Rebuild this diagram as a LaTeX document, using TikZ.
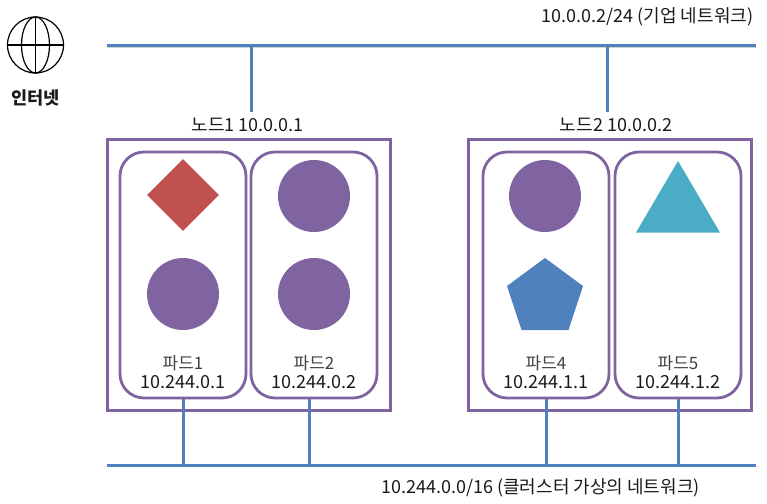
\documentclass[tikz,border=0pt]{standalone}
\usepackage{fontspec}
\setmainfont{Noto Sans CJK KR}
\usetikzlibrary{shapes.geometric}
\definecolor{netblue}{HTML}{4F81BD}
\definecolor{frame}{HTML}{8064A2}
\definecolor{redshape}{HTML}{C0504D}
\definecolor{tealshape}{HTML}{4BACC6}
\definecolor{textink}{HTML}{1A1A1A}
\tikzset{
  nodebox/.style={draw=frame,line width=3pt,minimum width=283pt,minimum height=271pt,inner sep=0pt},
  podbox/.style={draw=frame,line width=2.8pt,rounded corners=24pt,minimum width=126pt,minimum height=246pt,inner sep=0pt},
  bus/.style={draw=netblue,line width=3pt,preaction={draw=black!18,line width=3pt,transform canvas={yshift=-0.9pt}}},
  link/.style={draw=netblue,line width=3pt},
  disc/.style={circle,fill=frame,minimum size=72pt,inner sep=0pt},
  lbl/.style={font=\fontsize{18}{20}\selectfont,text=textink,inner sep=0pt,align=center},
  podlbl/.style={font=\fontsize{18}{19}\selectfont,text=textink,inner sep=0pt,align=center},
  globe/.style={draw=black,line width=1.2pt}
}
\begin{document}
\begin{tikzpicture}[x=1pt,y=-1pt]
\useasboundingbox (0,0) rectangle (767,503);
% buses
\coordinate (topL) at (107,46);
\coordinate (topR) at (756,46);
\coordinate (botL) at (107,465);
\coordinate (botR) at (756,465);
\draw[bus] (topL) -- (topR);
\draw[bus] (botL) -- (botR);
% node boxes
\node[nodebox] (n1) at (248.5,274.5) {};
\node[nodebox] (n2) at (609.5,274.5) {};
% pods
\node[podbox] (p1) at (183,275) {};
\node[podbox] (p2) at (314,275) {};
\node[podbox] (p4) at (546,275) {};
\node[podbox] (p5) at (678,275) {};
% labels
\node[lbl] (t1) at (247.5,125) {노드1 10.0.0.1};
\node[lbl] (t2) at (616,125) {노드2 10.0.0.2};
\node[lbl] (tnet) at (647.5,17) {10.0.0.2/24 (기업 네트워크)};
\node[lbl] (bnet) at (540.5,488) {10.244.0.0/16 (클러스터 가상의 네트워크)};
\node[lbl,font=\fontsize{17.5}{20}\selectfont\bfseries] (inet) at (35.5,98) {인터넷};
\node[podlbl] (l1) at (183,372) {{\fontsize{17}{19}\selectfont\color{black!75}파드1}\\10.244.0.1};
\node[podlbl] (l2) at (314,372) {{\fontsize{17}{19}\selectfont\color{black!75}파드2}\\10.244.0.2};
\node[podlbl] (l4) at (546,372) {{\fontsize{17}{19}\selectfont\color{black!75}파드4}\\10.244.1.1};
\node[podlbl] (l5) at (678,372) {{\fontsize{17}{19}\selectfont\color{black!75}파드5}\\10.244.1.2};
% connectors
\coordinate (c1) at (251,112);
\coordinate (c2) at (607,112);
\draw[link] (c1 |- topL) -- (c1);
\draw[link] (c2 |- topL) -- (c2);
\coordinate (d1) at (183,465);
\coordinate (d2) at (309,465);
\coordinate (d4) at (546,465);
\coordinate (d5) at (678,465);
\draw[link] (d1 |- p1.south) -- (d1);
\draw[link] (d2 |- p2.south) -- (d2);
\draw[link] (d4 |- p4.south) -- (d4);
\draw[link] (d5 |- p5.south) -- (d5);
% shapes
\node[diamond,fill=redshape,minimum width=72pt,minimum height=72pt,inner sep=0pt,aspect=1] (s1) at (183,195) {};
\node[disc] (s2) at (183,294) {};
\node[disc] (s3) at (314,196) {};
\node[disc] (s4) at (314,294) {};
\node[disc] (s5) at (545,196) {};
\fill[netblue] (545,258) -- (583,286) -- (568.5,330) -- (521.5,330) -- (507,286) -- cycle;
\fill[tealshape] (678,161) -- (720,232.5) -- (636,232.5) -- cycle;
% globe
\coordinate (g) at (35.5,45);
\draw[globe] (g) circle (28);
\draw[globe] (g) ellipse (14 and 28);
\draw[globe] (35.5,17) -- (35.5,73);
\draw[globe] (7.5,45) -- (63.5,45);
\end{tikzpicture}
\end{document}
